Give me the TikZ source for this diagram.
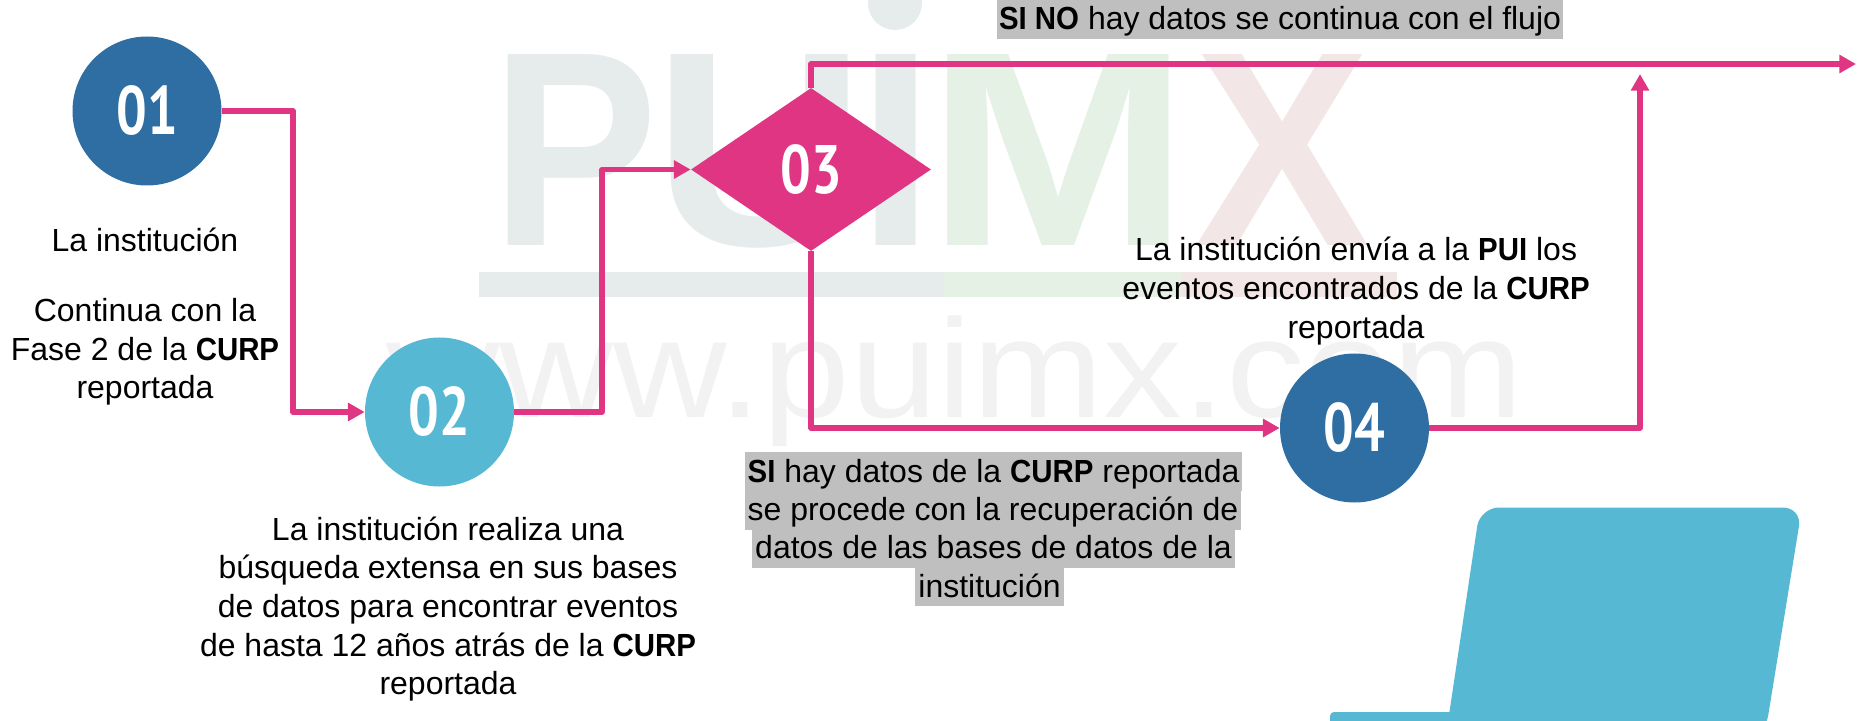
\documentclass[tikz,border=0pt]{standalone}
\usepackage{graphics}
\usepackage{fontspec}
\setmainfont{Liberation Sans}
\newfontfamily\numfont{PT Sans}
\usetikzlibrary{arrows.meta,shapes.geometric}
\definecolor{pinkflow}{HTML}{E03583}
\definecolor{bluedark}{HTML}{2F6EA2}
\definecolor{bluelight}{HTML}{57B8D3}
\definecolor{hlgray}{HTML}{BFBFBF}
\definecolor{wmgray}{HTML}{E6EBEB}
\definecolor{wmgreen}{HTML}{E6F1E6}
\definecolor{wmred}{HTML}{F3E6E6}
\definecolor{wmweb}{HTML}{F2F2F2}
\newcommand{\nb}[1]{\scalebox{0.79}[1]{#1}}
\newcommand{\bd}[1]{\scalebox{0.92}[1]{\textbf{#1}}}
\tikzset{
  flow/.style={draw=pinkflow,line width=2.9pt,line join=round},
  tip/.style={flow,-{Triangle[length=9.5pt,width=10pt]}},
  num/.style={text=white,font=\numfont\bfseries\fontsize{39}{42}\selectfont,inner sep=0},
  circ/.style={circle,num,minimum size=2.98cm},
  txt/.style={align=center,inner sep=0,font=\fontsize{18.2}{22}\selectfont},
  hl/.style={fill=hlgray,inner sep=0,minimum height=0.78cm,text height=0.55cm,text depth=0.13cm,font=\fontsize{18.2}{22}\selectfont},
  wm/.style={anchor=base,inner sep=0,font=\bfseries\fontsize{158}{162}\selectfont}
}
\begin{document}
\begin{tikzpicture}
  \useasboundingbox (0,0) rectangle (37.48,14.4);
  \begin{scope}
    \clip (0,0) rectangle (37.48,14.4);
    \fill [wmgray] (17.9,14.34) ellipse (0.54 and 0.54);
    \fill [bluelight,rounded corners=0.08cm] (26.6,-0.3) rectangle (33,0.16);
    \fill [bluelight,rounded corners=0.38cm] (29.6,4.25) -- (36.04,4.25) -- (35.3,-0.3) -- (28.92,-0.3) -- cycle;
  \end{scope}
  \node [wm,text=wmgray,xscale=0.9] (p) at (11.5,9.48) {P};
  \node [wm,text=wmgray,xscale=1.06] (u) at (15.2,9.48) {U};
  \node [wm,text=wmgray] (i) at (17.93,9.48) {I};
  \node [wm,text=wmgreen,xscale=1.14] (m) at (21.17,9.48) {M};
  \node [wm,text=wmred,xscale=0.95] (x) at (25.64,9.48) {X};
  \fill [wmgray] (9.58,8.46) rectangle (18.88,8.96);
  \fill [wmgreen] (18.88,8.46) rectangle (23.64,8.96);
  \fill [wmred] (23.64,8.46) rectangle (27.94,8.96);
  \node [anchor=base,inner sep=0,text=wmweb,xscale=1.12,font=\fontsize{80}{84}\selectfont] (web) at (19.1,6.04) {www.puimx.com};
  \node [circ,fill=bluedark] (a) at (2.94,12.18) {\nb{01}};
  \node [circ,fill=bluelight] (b) at (8.79,6.16) {\nb{02}};
  \node [diamond,num,fill=pinkflow,aspect=1.47,minimum width=4.8cm,minimum height=3.26cm] (c) at (16.22,11.01) {\nb{03}};
  \node [circ,fill=bluedark] (d) at (27.09,5.84) {\nb{04}};
  \coordinate (j) at (5.86,9);
  \coordinate (k) at (12.04,9);
  \coordinate (e) at (37.12,13.12);
  \coordinate (f) at (32.8,12.92);
  \draw [tip] (a.east) -| (j) |- (b.west);
  \draw [tip] (b.east) -| (k) |- (c.west);
  \draw [tip] (c.north) |- (e);
  \draw [tip] (c.south) |- (d.west);
  \draw [tip] (d.east) -| (f);
  \node [txt] (ta) at (2.9,8.07) {La institución\\[18pt]Continua con la\\Fase 2 de la \bd{CURP}\\reportada};
  \node [txt] (tb) at (8.96,2.22) {La institución realiza una\\búsqueda extensa en sus bases\\de datos para encontrar eventos\\de hasta 12 años atrás de la \bd{CURP}\\reportada};
  \node [txt] (td) at (27.12,8.58) {La institución envía a la \bd{PUI} los\\eventos encontrados de la \bd{CURP}\\reportada};
  \node [hl,minimum width=11.32cm] (n) at (25.6,14.01) {\bd{SI NO} hay datos se continua con el flujo};
  \node [hl,minimum width=9.94cm] (s1) at (19.87,4.97) {\bd{SI} hay datos de la \bd{CURP} reportada};
  \node [hl,minimum width=9.92cm] (s2) at (19.86,4.2) {se procede con la recuperación de};
  \node [hl,minimum width=9.66cm] (s3) at (19.87,3.44) {datos de las bases de datos de la};
  \node [hl,minimum width=2.98cm] (s4) at (19.79,2.67) {institución};
\end{tikzpicture}
\end{document}
